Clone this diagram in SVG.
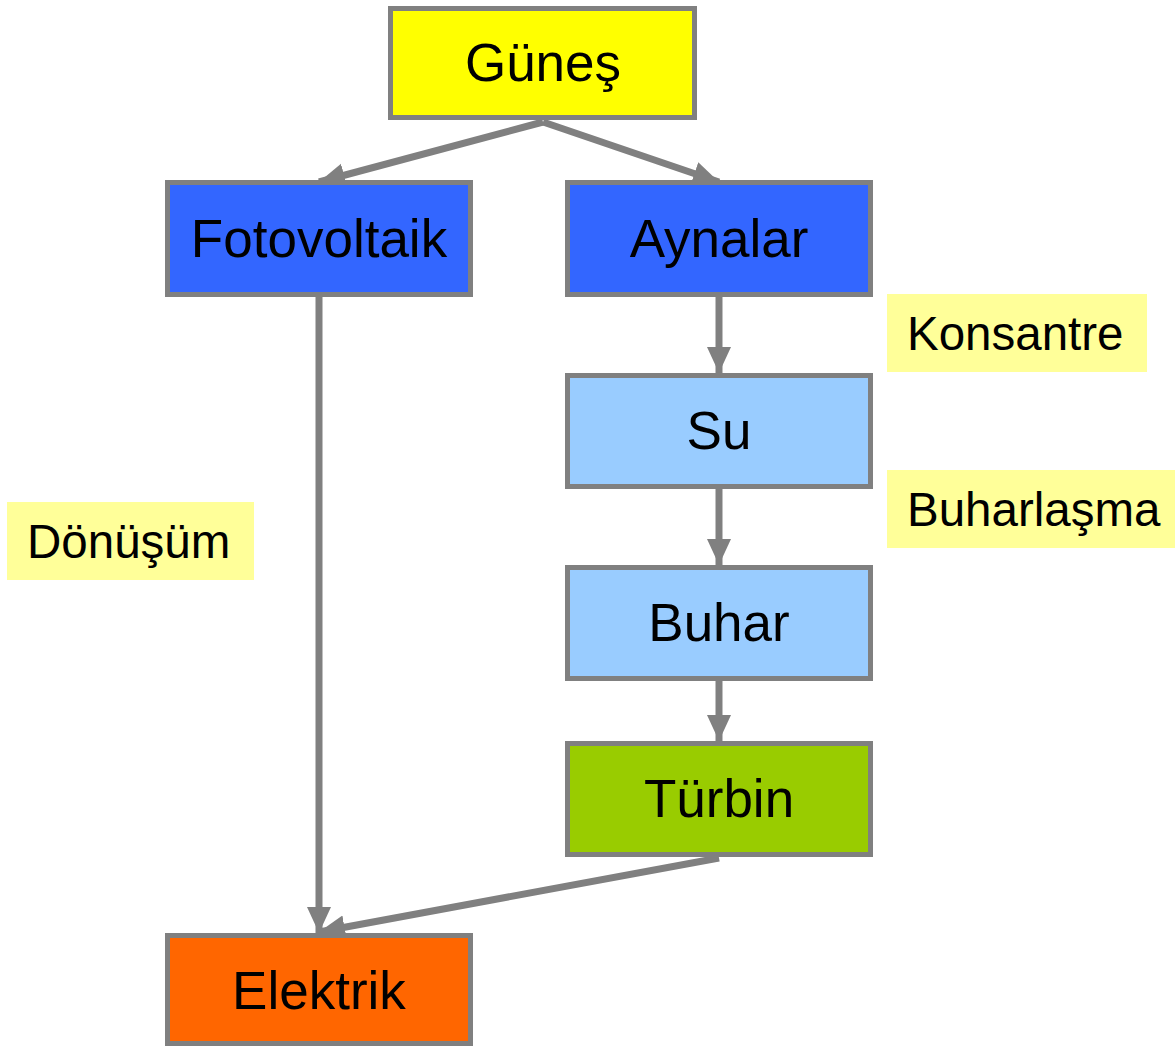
<svg xmlns="http://www.w3.org/2000/svg" width="1175" height="1046" viewBox="0 0 1175 1046">
<defs>
<style>
.node rect{stroke:#808080;stroke-width:5}
.node text{font-family:"Liberation Sans",Arial,sans-serif;font-size:53px;fill:#000;text-anchor:middle}
.lbl rect{fill:#FFFF99}
.lbl text{font-family:"Liberation Sans",Arial,sans-serif;font-size:47.5px;fill:#000}
#connectors line{stroke:#808080;stroke-width:7;marker-end:url(#arr)}
</style>
<marker id="arr" markerUnits="userSpaceOnUse" markerWidth="26" markerHeight="26" viewBox="0 0 26 26" refX="26" refY="13" orient="auto">
<path d="M0,1 L26,13 L0,25 Z" fill="#808080"/>
</marker>
</defs>
<rect width="1175" height="1046" fill="#fff"/>
<g id="connectors">
<line x1="543" y1="122" x2="319" y2="182"/>
<line x1="543" y1="122" x2="719" y2="182"/>
<line x1="319" y1="296" x2="319" y2="933"/>
<line x1="719" y1="296" x2="719" y2="373"/>
<line x1="719" y1="488" x2="719" y2="565"/>
<line x1="719" y1="680" x2="719" y2="741"/>
<line x1="719" y1="858" x2="319" y2="932"/>
</g>
<g id="gunes" class="node"><rect x="390.5" y="8.5" width="304" height="109" fill="#FFFF00"/><text x="543" y="81">Güneş</text></g>
<g id="fotovoltaik" class="node"><rect x="167.5" y="182.5" width="303" height="112" fill="#3366FF"/><text x="319" y="257">Fotovoltaik</text></g>
<g id="aynalar" class="node"><rect x="567.5" y="182.5" width="303" height="112" fill="#3366FF"/><text x="719" y="257">Aynalar</text></g>
<g id="su" class="node"><rect x="567.5" y="375.5" width="303" height="111" fill="#99CCFF"/><text x="719" y="449">Su</text></g>
<g id="buhar" class="node"><rect x="567.5" y="567.5" width="303" height="111" fill="#99CCFF"/><text x="719" y="641">Buhar</text></g>
<g id="turbin" class="node"><rect x="567.5" y="743.5" width="303" height="111" fill="#99CC00"/><text x="719" y="817">Türbin</text></g>
<g id="elektrik" class="node"><rect x="167.5" y="935.5" width="303" height="108" fill="#FF6600"/><text x="319" y="1009">Elektrik</text></g>
<g id="konsantre" class="lbl"><rect x="887" y="294" width="260" height="78"/><text x="907" y="350">Konsantre</text></g>
<g id="buharlasma" class="lbl"><rect x="887" y="470" width="288" height="78"/><text x="907" y="526">Buharlaşma</text></g>
<g id="donusum" class="lbl"><rect x="7" y="502" width="247" height="78"/><text x="27" y="558">Dönüşüm</text></g>
</svg>
